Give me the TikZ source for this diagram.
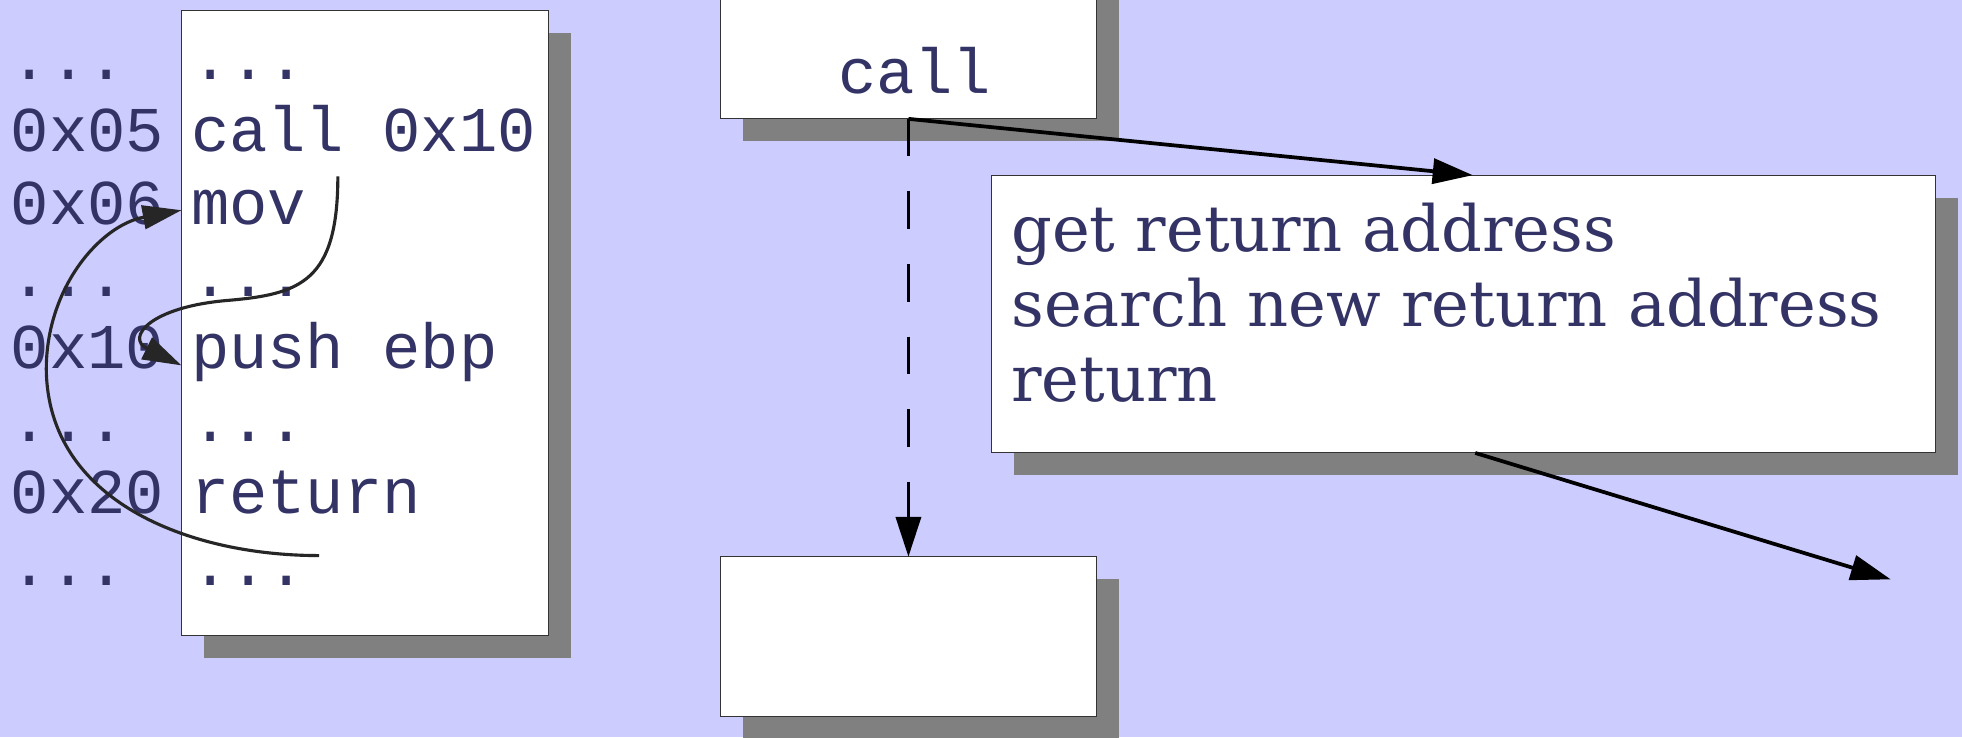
\documentclass[tikz,border=0pt]{standalone}
\usepackage{fontspec}
\usetikzlibrary{arrows.meta, shadows, calc}
\newfontfamily\codefont{Liberation Mono}
\newfontfamily\notefont{DejaVu Serif}
\definecolor{backdrop}{HTML}{CCCCFF}
\definecolor{ink}{HTML}{333366}
\definecolor{shade}{HTML}{808080}
\newcommand{\skipped}{...}

\begin{document}
\begin{tikzpicture}[x=1pt, y=-1pt,
    box/.style={draw=black!80, line width=0.8pt, fill=white, inner sep=0pt, outer sep=0pt,
        anchor=north west, drop shadow={shadow xshift=18pt, shadow yshift=-18pt, fill=shade, opacity=1}},
    code/.style={font=\codefont\fontsize{51}{58}\selectfont, text=ink, inner sep=0pt, anchor=base west},
    note/.style={font=\notefont\fontsize{51}{60}\selectfont, text=ink, inner sep=0pt, anchor=base west},
    jump/.style={line width=2.5pt, draw=black!85, -{Triangle[length=31pt, width=19pt]}},
    flow/.style={line width=3pt, -{Triangle[length=32pt, width=20pt]}}]

    \useasboundingbox (0, 0) rectangle (1568, 589);
    \fill[backdrop] (0, 0) rectangle (1568, 589);

    % memory listing
    \node[box, minimum width=293, minimum height=500] (prog) at (145, 8) {};
    \foreach \addr/\instr [count=\i] in {\skipped/\skipped, 0x05/call 0x10, 0x06/mov, \skipped/\skipped,
                                         0x10/push ebp, \skipped/\skipped, 0x20/return, \skipped/\skipped} {
        \node[code] (addr\i) at (8.5, {63.5+57.8*(\i-1)}) {\addr};
        \node[code] (instr\i) at (152.5, {63.5+57.8*(\i-1)}) {\instr};
    }

    % call -> hook -> next instruction
    \node[box, minimum width=300, minimum height=135] (callbox) at (576, -40) {};
    \node[code, anchor=base] (calltxt) at (731, 75) {call};
    \node[box, minimum width=755, minimum height=222] (task) at (792, 140) {};
    \foreach \line [count=\i] in {get return address, search new return address, return}
        \node[note] (line\i) at (808, {201+60*(\i-1)}) {\line};
    \node[box, minimum width=300, minimum height=128] (next) at (576, 445) {};

    \coordinate (exit) at (1511, 463);
    \draw[flow] (callbox.south) -- ($(task.north west)+(385, 0)$);
    \draw[flow, dash pattern=on 30pt off 28pt] (callbox.south) -- (next.north);
    \draw[flow] ($(task.south west)+(387, 0)$) -- (exit);

    % jumps inside the listing
    \coordinate (callfrom) at (270, 141);
    \coordinate (pushto) at (145, 292);
    \coordinate (retfrom) at (255, 444);
    \coordinate (movto) at (145, 168);
    \draw[jump] (callfrom) .. controls (270, 225) and (240, 235) .. (183, 240)
        .. controls (120, 245) and (100, 270) .. (pushto);
    \draw[jump] (retfrom) .. controls (150, 444) and (38, 400) .. (37, 295)
        .. controls (37, 230) and (80, 180) .. (movto);
\end{tikzpicture}
\end{document}
